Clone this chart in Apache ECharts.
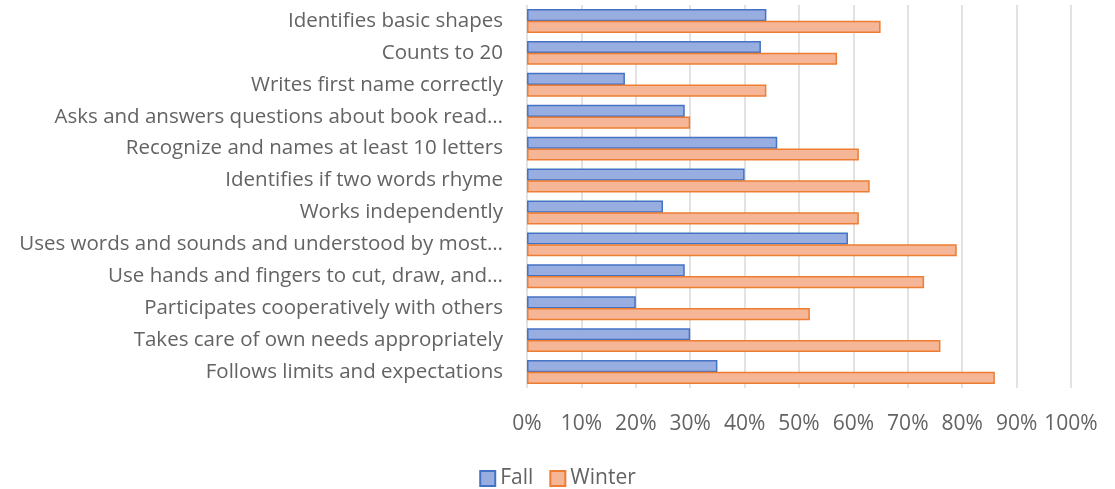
<!DOCTYPE html>
<html>
<head>
<meta charset="utf-8">
<script src="https://cdn.jsdelivr.net/npm/echarts@6/dist/echarts.min.js"></script>
<style>
  html, body { margin: 0; padding: 0; background: #fff; }
  #main { width: 1115px; height: 489px; }
</style>
</head>
<body>
<div id="main"></div>
<script>
// categories, top to bottom
var categories = [
  'Identifies basic shapes',
  'Counts to 20',
  'Writes first name correctly',
  'Asks and answers questions about book read…',
  'Recognize and names at least 10 letters',
  'Identifies if two words rhyme',
  'Works independently',
  'Uses words and sounds and understood by most…',
  'Use hands and fingers to cut, draw, and…',
  'Participates cooperatively with others',
  'Takes care of own needs appropriately',
  'Follows limits and expectations'
];
var fall = [44, 43, 18, 29, 46, 40, 25, 59, 29, 20, 30, 35];
var winter = [65, 57, 44, 30, 61, 63, 61, 79, 73, 52, 76, 86];

var textColor = '#636363';
var fontFam = '"Open Sans", "Liberation Sans", sans-serif';

var myChart = echarts.init(document.getElementById('main'));
myChart.setOption({
  animation: false,
  textStyle: { fontFamily: fontFam },
  legend: {
    data: ['Fall', 'Winter'],
    top: 463,
    left: 'center',
    icon: 'rect',
    itemWidth: 15,
    itemHeight: 15,
    itemGap: 16,
    textStyle: { color: textColor, fontSize: 21, fontFamily: fontFam }
  },
  grid: { left: 527, right: 44, top: 5, bottom: 101 },
  xAxis: {
    type: 'value',
    min: 0,
    max: 100,
    interval: 10,
    axisLine: { show: false },
    axisTick: { show: false },
    axisLabel: {
      formatter: '{value}%',
      color: textColor,
      fontSize: 21,
      margin: 26,
      fontFamily: fontFam
    },
    splitLine: { lineStyle: { color: '#d9d9d9', width: 1.5 } }
  },
  yAxis: {
    type: 'category',
    inverse: true,
    data: categories,
    axisLine: { show: false },
    axisTick: { show: false },
    axisLabel: {
      color: textColor,
      fontSize: 20.5,
      margin: 24,
      fontFamily: fontFam
    }
  },
  series: [
    {
      name: 'Fall',
      type: 'bar',
      data: fall,
      barGap: '-4%',
      barCategoryGap: '25%',
      itemStyle: { color: '#98ADE0', borderColor: '#4472C4', borderWidth: 1.5 }
    },
    {
      name: 'Winter',
      type: 'bar',
      data: winter,
      itemStyle: { color: '#F5B597', borderColor: '#ED7D31', borderWidth: 1.5 }
    }
  ]
});
</script>
</body>
</html>
